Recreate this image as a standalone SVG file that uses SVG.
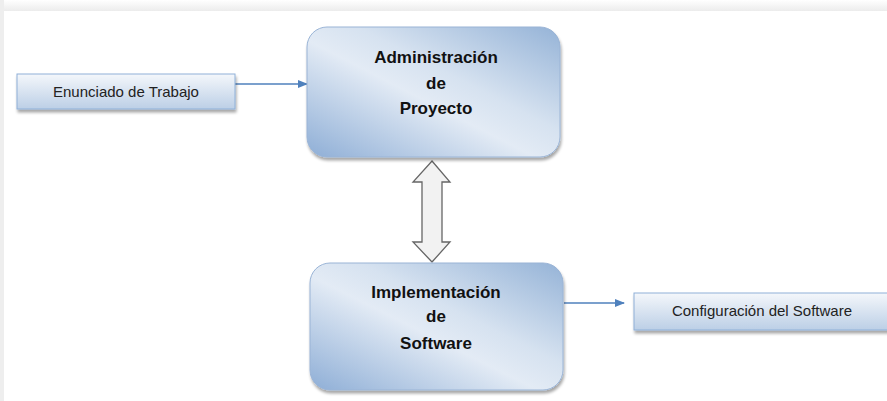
<svg xmlns="http://www.w3.org/2000/svg" width="887" height="401" viewBox="0 0 887 401">
<defs>
<linearGradient id="big" x1="0" y1="1" x2="1" y2="0">
<stop offset="0" stop-color="#8eaed6"/>
<stop offset="0.45" stop-color="#e3ebf5"/>
<stop offset="0.6" stop-color="#d6e2f0"/>
<stop offset="1" stop-color="#95b3d7"/>
</linearGradient>
<linearGradient id="small" x1="0" y1="0" x2="0" y2="1">
<stop offset="0" stop-color="#f4f7fb"/>
<stop offset="1" stop-color="#bccfe6"/>
</linearGradient>
<linearGradient id="bgtop" x1="0" y1="0" x2="0" y2="1">
<stop offset="0" stop-color="#ffffff"/>
<stop offset="1" stop-color="#ececec"/>
</linearGradient>
<filter id="sh" x="-10%" y="-10%" width="130%" height="130%">
<feGaussianBlur in="SourceAlpha" stdDeviation="1.5"/>
<feOffset dx="1" dy="3"/>
<feComponentTransfer><feFuncA type="linear" slope="0.35"/></feComponentTransfer>
<feMerge><feMergeNode/><feMergeNode in="SourceGraphic"/></feMerge>
</filter>
<marker id="ah" markerWidth="10" markerHeight="8" refX="9" refY="4" orient="auto" markerUnits="userSpaceOnUse">
<path d="M0,0 L10,4 L0,8 Z" fill="#4f81bd"/>
</marker>
</defs>
<style>
.big{fill:url(#big);stroke:#9ab4d6;stroke-width:1;filter:url(#sh)}
.small{fill:url(#small);stroke:#8fb0d8;stroke-width:1;filter:url(#sh)}
.bt{font-family:"Liberation Sans",Arial,sans-serif;font-weight:bold;font-size:17px;fill:#111;text-anchor:middle}
.st{font-family:"Liberation Sans",Arial,sans-serif;font-size:15px;fill:#222;text-anchor:middle}
.ln{stroke:#4f81bd;stroke-width:1.3;fill:none}
</style>
<rect x="0" y="0" width="887" height="401" fill="#ffffff"/>
<rect x="0" y="0" width="887" height="11" fill="url(#bgtop)"/>
<rect x="0" y="0" width="4" height="401" fill="#eeeeee"/>
<g id="connectors">
<line class="ln" x1="235" y1="84" x2="307" y2="84" marker-end="url(#ah)"/>
<line class="ln" x1="564" y1="303" x2="624" y2="303" marker-end="url(#ah)"/>
<path d="M432,161 L450,182 L442,182 L442,242 L450,242 L432,262 L413,242 L422,242 L422,182 L413,182 Z" fill="#f2f2f2" stroke="#666" stroke-width="1.3"/>
</g>
<g id="enunciado">
<rect class="small" x="17" y="74" width="218" height="35"/>
<text class="st" x="126" y="97">Enunciado de Trabajo</text>
</g>
<g id="administracion">
<rect class="big" x="307" y="27" width="253" height="130" rx="20"/>
<text class="bt" x="436" y="63">Administración</text>
<text class="bt" x="436" y="89">de</text>
<text class="bt" x="436" y="114">Proyecto</text>
</g>
<g id="implementacion">
<rect class="big" x="310" y="263" width="253" height="127" rx="20"/>
<text class="bt" x="436" y="298">Implementación</text>
<text class="bt" x="436" y="322">de</text>
<text class="bt" x="436" y="349">Software</text>
</g>
<g id="configuracion">
<rect class="small" x="634" y="293" width="260" height="37"/>
<text class="st" x="762" y="316">Configuración del Software</text>
</g>
</svg>
